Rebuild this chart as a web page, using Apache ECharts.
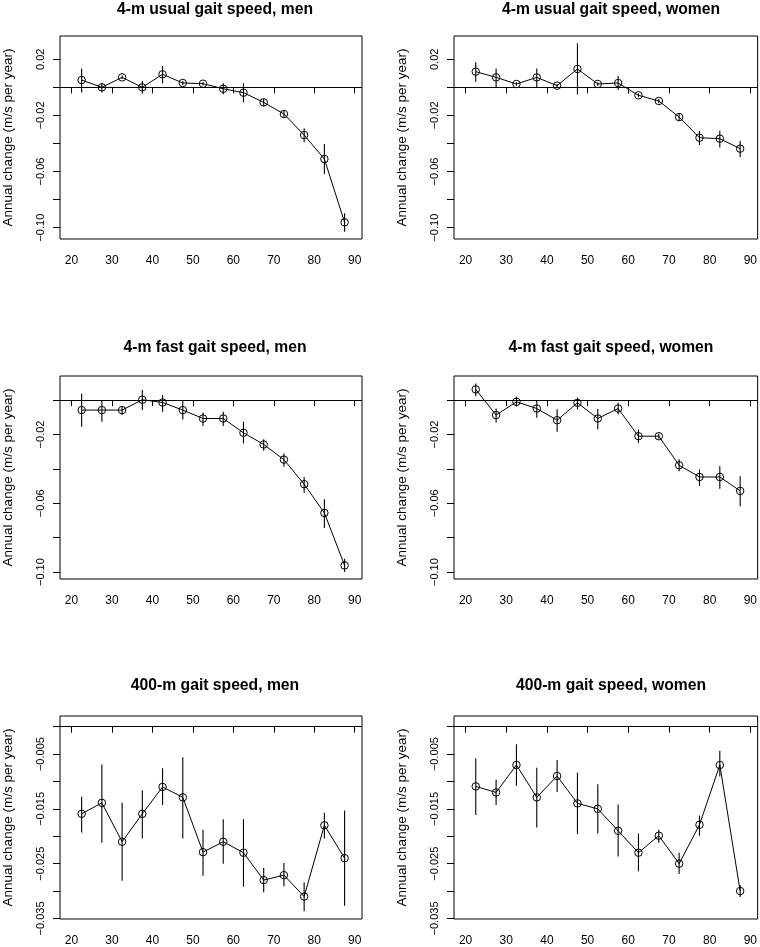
<!DOCTYPE html>
<html>
<head>
<meta charset="utf-8">
<script src="https://cdn.jsdelivr.net/npm/echarts@6/dist/echarts.min.js"></script>
<style>html,body{margin:0;padding:0;background:#fff}#c{width:760px;height:947px}</style>
</head>
<body>
<div id="c"></div>
<script>
const ages = [22.5, 27.5, 32.5, 37.5, 42.5, 47.5, 52.5, 57.5, 62.5, 67.5, 72.5, 77.5, 82.5, 87.5];
const xTicks = [20, 30, 40, 50, 60, 70, 80, 90];

const titles = ['4-m usual gait speed, men', '4-m usual gait speed, women',
  '4-m fast gait speed, men', '4-m fast gait speed, women',
  '400-m gait speed, men', '400-m gait speed, women'];
const yName = 'Annual change (m/s per year)';

// 4-m usual, men
const usualMen   = [0.0052, 0.0000, 0.0071, 0.0000, 0.0093, 0.0031, 0.0026, -0.0010, -0.0038, -0.0107, -0.0190, -0.0340, -0.0511, -0.0962];
const usualMenLo = [-0.0036, -0.0036, 0.0059, -0.0043, 0.0029, 0.0017, 0.0014, -0.0050, -0.0107, -0.0135, -0.0214, -0.0392, -0.0618, -0.1029];
const usualMenHi = [0.0135, 0.0029, 0.0083, 0.0045, 0.0152, 0.0045, 0.0038, 0.0029, 0.0029, -0.0083, -0.0166, -0.0292, -0.0404, -0.0898];
// 4-m usual, women
const usualWomen   = [0.0112, 0.0071, 0.0024, 0.0071, 0.0012, 0.0131, 0.0024, 0.0031, -0.0057, -0.0097, -0.0212, -0.0359, -0.0366, -0.0437];
const usualWomenLo = [0.0040, 0.0000, 0.0012, 0.0000, -0.0002, -0.0050, 0.0010, -0.0019, -0.0071, -0.0114, -0.0238, -0.0411, -0.0428, -0.0499];
const usualWomenHi = [0.0178, 0.0135, 0.0036, 0.0135, 0.0024, 0.0314, 0.0036, 0.0081, -0.0043, -0.0083, -0.0188, -0.0311, -0.0309, -0.0383];
// 4-m fast, men
const fastMen   = [-0.0058, -0.0058, -0.0058, 0.0002, -0.0014, -0.0058, -0.0107, -0.0107, -0.0190, -0.0258, -0.0346, -0.0489, -0.0656, -0.0961];
const fastMenLo = [-0.0155, -0.0126, -0.0087, -0.0058, -0.0068, -0.0113, -0.0150, -0.0151, -0.0252, -0.0295, -0.0388, -0.0538, -0.0744, -0.1000];
const fastMenHi = [0.0039, 0.0000, -0.0039, 0.0058, 0.0029, -0.0006, -0.0072, -0.0068, -0.0126, -0.0227, -0.0311, -0.0447, -0.0577, -0.0922];
// 4-m fast, women
const fastWomen   = [0.0062, -0.0087, -0.0010, -0.0049, -0.0117, -0.0016, -0.0107, -0.0049, -0.0210, -0.0210, -0.0379, -0.0447, -0.0447, -0.0528];
const fastWomenLo = [0.0023, -0.0130, -0.0039, -0.0103, -0.0184, -0.0054, -0.0169, -0.0082, -0.0249, -0.0225, -0.0414, -0.0499, -0.0515, -0.0617];
const fastWomenHi = [0.0097, -0.0049, 0.0019, 0.0000, -0.0054, 0.0014, -0.0052, -0.0016, -0.0171, -0.0194, -0.0344, -0.0404, -0.0384, -0.0443];
// 400-m, men
const walkMen   = [-0.0159, -0.0139, -0.0210, -0.0159, -0.0110, -0.0129, -0.0229, -0.0210, -0.0230, -0.0280, -0.0271, -0.0310, -0.0180, -0.0240];
const walkMenLo = [-0.0193, -0.0212, -0.0281, -0.0204, -0.0143, -0.0204, -0.0272, -0.0250, -0.0292, -0.0302, -0.0291, -0.0337, -0.0204, -0.0327];
const walkMenHi = [-0.0128, -0.0069, -0.0139, -0.0116, -0.0076, -0.0056, -0.0188, -0.0169, -0.0169, -0.0258, -0.0249, -0.0284, -0.0157, -0.0153];
// 400-m, women
const walkWomen   = [-0.0109, -0.0120, -0.0070, -0.0129, -0.0090, -0.0140, -0.0150, -0.0190, -0.0230, -0.0199, -0.0250, -0.0179, -0.0070, -0.0300];
const walkWomenLo = [-0.0161, -0.0143, -0.0108, -0.0184, -0.0119, -0.0196, -0.0195, -0.0237, -0.0264, -0.0212, -0.0269, -0.0199, -0.0091, -0.0311];
const walkWomenHi = [-0.0058, -0.0097, -0.0032, -0.0075, -0.0061, -0.0084, -0.0105, -0.0142, -0.0195, -0.0188, -0.0230, -0.0162, -0.0044, -0.0289];

// y-axis tick values & labels per row
const yTicksRow1 = [0.02, 0, -0.02, -0.04, -0.06, -0.08, -0.10];
const yLabelsRow1 = [0.02, -0.02, -0.06, -0.10];
const yTicksRow2 = [0, -0.02, -0.04, -0.06, -0.08, -0.10];
const yLabelsRow2 = [-0.02, -0.06, -0.10];
const yTicksRow3 = [0, -0.005, -0.010, -0.015, -0.020, -0.025, -0.030, -0.035];
const yLabelsRow3 = [-0.005, -0.015, -0.025, -0.035];

const panels = [
  {m: usualMen, lo: usualMenLo, hi: usualMenHi},
  {m: usualWomen, lo: usualWomenLo, hi: usualWomenHi},
  {m: fastMen, lo: fastMenLo, hi: fastMenHi},
  {m: fastWomen, lo: fastWomenLo, hi: fastWomenHi},
  {m: walkMen, lo: walkMenLo, hi: walkMenHi},
  {m: walkWomen, lo: walkWomenLo, hi: walkWomenHi}
];

const rows = [
  {top: 36, min: -0.1081, max: 0.0366, ticks: yTicksRow1, labels: yLabelsRow1, dec: 2, titleTop: -3},
  {top: 376, min: -0.1040, max: 0.0140, ticks: yTicksRow2, labels: yLabelsRow2, dec: 2, titleTop: 335},
  {top: 716, min: -0.0351, max: 0.00195, ticks: yTicksRow3, labels: yLabelsRow3, dec: 3, titleTop: 673}
];
const cols = [58, 454];
const W = 304, H = 203;

const grid = [], xAxis = [], yAxis = [], series = [], title = [];
panels.forEach((p, i) => {
  const r = rows[Math.floor(i / 2)];
  const left = cols[i % 2];
  grid.push({left: left, top: r.top, width: W, height: H, show: true, borderColor: '#000', borderWidth: 1, backgroundColor: 'transparent'});
  title.push({text: titles[i], left: left + W / 2, top: r.titleTop, textAlign: 'center',
    textStyle: {fontSize: 15.7, fontWeight: 'bold', color: '#000', fontFamily: 'Liberation Sans', lineHeight: 16}});
  xAxis.push({type: 'value', gridIndex: i, min: 17.15, max: 91.8,
    axisLine: {show: false}, splitLine: {show: false},
    axisTick: {show: true, length: 6, inside: false, customValues: xTicks, lineStyle: {color: '#000', width: 1}},
    axisLabel: {customValues: xTicks, fontSize: 12, margin: 16, color: '#000', fontFamily: 'Liberation Sans'}});
  yAxis.push({type: 'value', gridIndex: i, min: r.min, max: r.max,
    axisLine: {show: false}, splitLine: {show: false},
    axisTick: {show: true, length: 7, customValues: r.ticks, lineStyle: {color: '#000', width: 1}},
    axisLabel: {customValues: r.labels, rotate: 90, margin: 14, fontSize: 11, color: '#000', fontFamily: 'Liberation Sans',
      formatter: v => (v < 0 ? '\u2212' : '') + Math.abs(v).toFixed(r.dec)},
    name: yName, nameLocation: 'middle', nameGap: 45,
    nameTextStyle: {fontSize: 13.5, color: '#000', fontFamily: 'Liberation Sans'}});
  series.push({type: 'line', xAxisIndex: i, yAxisIndex: i,
    data: ages.map((a, k) => [a, p.m[k]]),
    symbol: 'circle', symbolSize: 7.5, showSymbol: true,
    itemStyle: {color: 'rgba(0,0,0,0)', borderColor: '#000', borderWidth: 1},
    lineStyle: {color: '#000', width: 1},
    emphasis: {disabled: true},
    markLine: {silent: true, symbol: 'none', label: {show: false}, animation: false,
      lineStyle: {color: '#000', width: 1, type: 'solid'}, data: [{yAxis: 0}]},
    z: 3});
  series.push({type: 'custom', xAxisIndex: i, yAxisIndex: i,
    data: ages.map((a, k) => [a, p.lo[k], p.hi[k]]),
    encode: {x: 0, y: [1, 2]},
    renderItem: (params, api) => {
      const a = api.coord([api.value(0), api.value(1)]);
      const b = api.coord([api.value(0), api.value(2)]);
      return {type: 'line', shape: {x1: a[0], y1: a[1], x2: b[0], y2: b[1]},
        style: {stroke: '#000', lineWidth: 1.1}};
    }, z: 2});
});

const chart = echarts.init(document.getElementById('c'), null, {renderer: 'canvas'});
chart.setOption({
  animation: false,
  backgroundColor: '#fff',
  textStyle: {fontFamily: 'Liberation Sans'},
  title: title, grid: grid, xAxis: xAxis, yAxis: yAxis, series: series
});
</script>
</body>
</html>
